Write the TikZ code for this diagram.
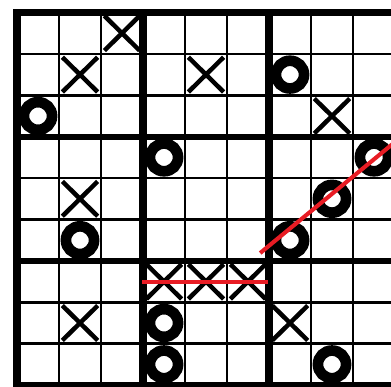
\documentclass[tikz,border=0pt]{standalone}
\usepackage{xcolor}
\usepackage{tikz}
\definecolor{winred}{RGB}{232,28,36}
\tikzset{
  thinline/.style={line width=1.9pt, color=black},
  vthickline/.style={line width=5pt, color=black, line cap=rect},
  hthickline/.style={line width=4.5pt, color=black, line cap=rect},
  xmark/.style={line width=3.2pt, color=black},
  omark/.style={line width=7.6pt, color=black},
  winline/.style={line width=2.9pt, color=winred}
}

\begin{document}
\begin{tikzpicture}[x=1.05cm, y=-1.035cm]
  \useasboundingbox (-0.405,-0.302) rectangle (8.905,9.046);
  \clip (-0.405,-0.302) rectangle (8.905,9.046);

  % Board grid
  \foreach \i in {1,2,4,5,7,8}
    \draw[thinline] (\i,0) -- (\i,9.2);
  \foreach \j in {1,2,4,5,7,8}
    \draw[thinline] (0,\j) -- (9.2,\j);
  \foreach \i in {0,3,6}
    \draw[vthickline] (\i,0) -- (\i,9.2);
  \foreach \j in {0,3,6,9}
    \draw[hthickline] (0,\j) -- (9.2,\j);

  % Crosses
  \foreach \c/\r in {2/0, 1/1, 4/1, 7/2, 1/4, 3/6, 4/6, 5/6, 1/7, 6/7}
    \draw[xmark] (\c+0.08,\r+0.08) -- (\c+0.92,\r+0.92)
                 (\c+0.08,\r+0.92) -- (\c+0.92,\r+0.08);

  % Noughts
  \foreach \c/\r in {6/1, 0/2, 3/3, 8/3, 7/4, 1/5, 6/5, 3/7, 3/8, 7/8}
    \draw[omark] (\c+0.5,\r+0.5) circle [radius=0.335];

  % Winning lines
  \coordinate (rowstart) at (2.98,6.51);
  \coordinate (rowend) at (5.98,6.51);
  \coordinate (diagstart) at (5.79,5.81);
  \coordinate (diagend) at (8.95,3.17);
  \draw[winline] (rowstart) -- (rowend);
  \draw[winline] (diagstart) -- (diagend);
\end{tikzpicture}
\end{document}
